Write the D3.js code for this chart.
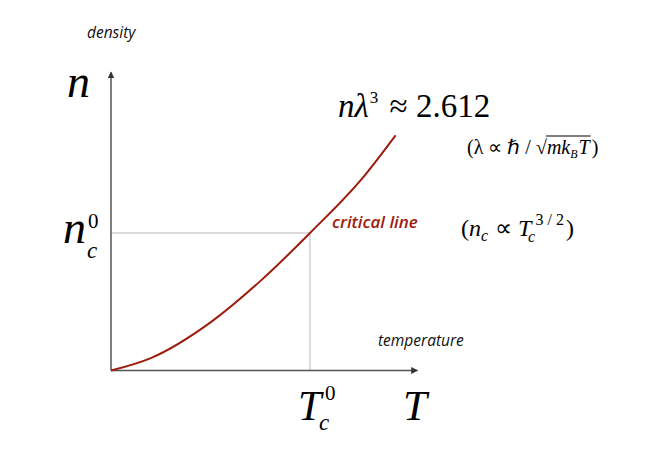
<!DOCTYPE html>
<html lang="en">

<head>
    <meta charset="UTF-8">
    <title>critical line</title>
    <style>
        * {
            margin: 0;
            padding: 0;
        }

        html,
        body {
            overflow: hidden;
            background: #fff;
        }
    </style>
</head>

<body>
    <div id="chart"></div>
    <script src="https://cdn.jsdelivr.net/npm/d3@7"></script>
    <script>
        // T / Tc0 and n / nc0
        const tValues = [0, 0.2, 0.5, 0.75, 1, 1.27, 1.43]
        const nValues = [0, 0.09, 0.35, 0.65, 1, 1.41, 1.71]
        const criticalPoint = [1, 1]
        const axisMax = [1.54, 2.17]

        const serif = '"Liberation Serif", "Times New Roman", serif'
        const sans = '"Open Sans", "DejaVu Sans", sans-serif'
        const red = '#9e1c0c'

        function drawChart() {
            const svg = d3.select('#chart')
                .append('svg')
                .attr('width', 654)
                .attr('height', 462)

            const x = d3.scaleLinear().domain([0, 1]).range([111, 310])
            const y = d3.scaleLinear().domain([0, 1]).range([370.5, 233])

            // guide lines to the critical point
            svg.append('path')
                .attr('d', `M${x(0)},${y(criticalPoint[1])}H${x(criticalPoint[0])}V${y(0)}`)
                .attr('fill', 'none')
                .attr('stroke', '#cfcfcf')
                .attr('stroke-width', 1.5)

            // axes
            svg.append('defs').append('marker')
                .attr('id', 'arrow')
                .attr('viewBox', '0 0 10 10')
                .attr('refX', 9)
                .attr('refY', 5)
                .attr('markerWidth', 7)
                .attr('markerHeight', 7)
                .attr('markerUnits', 'userSpaceOnUse')
                .attr('orient', 'auto')
                .append('path')
                .attr('d', 'M0,0L10,5L0,10z')
                .attr('fill', '#333')

            svg.append('line')
                .attr('x1', x(0)).attr('y1', y(0))
                .attr('x2', x(0)).attr('y2', y(axisMax[1]))
                .attr('stroke', '#555')
                .attr('stroke-width', 1.5)
                .attr('marker-end', 'url(#arrow)')

            svg.append('line')
                .attr('x1', x(0)).attr('y1', y(0))
                .attr('x2', x(axisMax[0])).attr('y2', y(0))
                .attr('stroke', '#555')
                .attr('stroke-width', 1.5)
                .attr('marker-end', 'url(#arrow)')

            // critical line
            const line = d3.line()
                .x(d => x(d[0]))
                .y(d => y(d[1]))
                .curve(d3.curveMonotoneX)

            svg.append('path')
                .datum(d3.zip(tValues, nValues))
                .attr('d', line)
                .attr('fill', 'none')
                .attr('stroke', red)
                .attr('stroke-width', 2)

            // sans labels
            const label = (txt, px, py, size, color, weight) => svg.append('text')
                .attr('x', px).attr('y', py)
                .attr('font-family', sans)
                .attr('font-style', 'italic')
                .attr('font-size', size)
                .attr('font-weight', weight || 'normal')
                .attr('fill', color)
                .text(txt)

            label('density', 87, 38, 15.5, '#111')
            label('temperature', 378, 346, 15.5, '#111')
            label('critical line', 332, 228, 17, red, 600)

            // math text
            function math(px, py, runs) {
                const t = svg.append('text')
                    .attr('x', px).attr('y', py)
                    .attr('font-family', serif)
                    .attr('fill', '#000')
                runs.forEach(r => {
                    const s = t.append('tspan')
                        .attr('font-size', r.size)
                        .attr('font-style', r.it ? 'italic' : 'normal')
                        .text(r.t)
                    if (r.dx) s.attr('dx', r.dx)
                    if (r.dy) s.attr('dy', r.dy)
                })
                return t
            }

            math(67, 97, [{ t: 'n', size: 46, it: true }])
            math(63, 243, [{ t: 'n', size: 46, it: true }])
            math(88, 228, [{ t: '0', size: 21 }])
            math(87, 258, [{ t: 'c', size: 23, it: true }])

            math(298, 420, [{ t: 'T', size: 42, it: true }])
            math(325, 400, [{ t: '0', size: 21 }])
            math(319, 430, [{ t: 'c', size: 23, it: true }])
            math(403, 420, [{ t: 'T', size: 43, it: true }])

            math(338, 117, [
                { t: 'nλ', size: 33, it: true },
                { t: '3', size: 17, dy: -14, dx: 1 },
                { t: ' ≈ 2.612', size: 33, dy: 14, dx: 3 }
            ])

            math(461, 236, [
                { t: '(', size: 24 },
                { t: 'n', size: 24, it: true },
                { t: 'c', size: 16, it: true, dy: 5 },
                { t: ' ∝ ', size: 24, dy: -5, dx: 1 },
                { t: 'T', size: 24, it: true },
                { t: '3 / 2', size: 16, dy: -11, dx: 4 },
                { t: ')', size: 24, dy: 11, dx: 2 }
            ])
            math(528, 242, [{ t: 'c', size: 16, it: true }])

            // (λ ∝ ℏ/√(mk_B T))
            const x0 = 467
            const a = math(x0, 154, [{ t: '(λ ∝ ℏ / √', size: 20 }])
            const wa = a.node().getComputedTextLength()
            const b = math(x0 + wa, 154, [
                { t: 'mk', size: 20, it: true },
                { t: 'B', size: 12, it: true, dy: 4 },
                { t: 'T', size: 20, it: true, dy: -4, dx: 1 }
            ])
            const wb = b.node().getComputedTextLength()
            svg.append('line')
                .attr('x1', x0 + wa - 1).attr('x2', x0 + wa + wb + 2)
                .attr('y1', 136).attr('y2', 136)
                .attr('stroke', '#000')
                .attr('stroke-width', 1)
            math(x0 + wa + wb + 3, 154, [{ t: ')', size: 20 }])
        }

        drawChart()
    </script>
</body>

</html>
